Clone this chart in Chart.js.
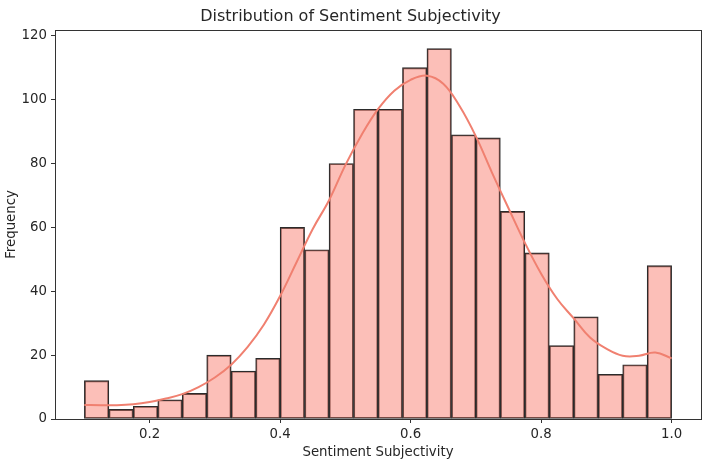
<!DOCTYPE html>
<html>
<head>
<meta charset="utf-8">
<script src="https://cdn.jsdelivr.net/npm/chart.js@4/dist/chart.umd.min.js"></script>
<style>
html,body{margin:0;padding:0;background:#fff;}
#wrap{width:708px;height:469px;}
</style>
</head>
<body>
<div id="wrap"><canvas id="c" width="708" height="469"></canvas></div>
<script>
// Histogram bin edges (Sentiment Subjectivity)
const binStart = 0.1;
const binWidth = 0.0375;
const counts = [12, 3, 4, 6, 8, 20, 15, 19, 60, 53, 80, 97, 97, 110, 116, 89, 88, 65, 52, 23, 32, 14, 17, 48];
// KDE curve (scaled to counts)
const kdeX = [0.100,0.125,0.150,0.175,0.200,0.225,0.250,0.275,0.300,0.325,0.350,0.375,0.400,0.425,0.450,0.475,0.500,0.525,0.550,0.575,0.600,0.625,0.650,0.675,0.700,0.725,0.750,0.775,0.800,0.825,0.850,0.875,0.900,0.925,0.950,0.975,1.000];
const kdeY = [4.4,4.3,4.3,4.6,5.3,6.4,7.8,10.0,13.0,17.0,22.5,29.5,38.5,49.0,59.5,68.5,79.5,89.0,97.0,102.8,106.2,107.5,105.0,98.0,88.5,77.0,66.0,55.2,45.5,37.5,31.5,25.5,22.0,19.8,19.8,20.8,19.0];
const xTicks = [0.2, 0.4, 0.6, 0.8, 1.0];
const yTicks = [0, 20, 40, 60, 80, 100, 120];

const barData = counts.map((c, i) => ({x: binStart + binWidth * (i + 0.5), y: c}));
const kdeData = kdeX.map((x, i) => ({x: x, y: kdeY[i]}));

const FONT = "'DejaVu Sans', sans-serif";
const TXT = '#262626';

const frame = {
  id: 'frame',
  afterDatasetsDraw(chart) {
    const a = chart.chartArea, ctx = chart.ctx;
    ctx.save();
    ctx.strokeStyle = '#333';
    ctx.lineWidth = 1;
    ctx.strokeRect(Math.round(a.left) + 0.5, Math.round(a.top) + 0.5, Math.round(a.right - a.left), Math.round(a.bottom - a.top));
    ctx.restore();
  }
};

new Chart(document.getElementById('c'), {
  type: 'bar',
  data: {
    datasets: [
      {
        type: 'line',
        data: kdeData,
        borderColor: '#f08070',
        borderWidth: 2,
        pointRadius: 0,
        tension: 0.4,
        fill: false,
        order: 0
      },
      {
        type: 'bar',
        data: barData,
        backgroundColor: 'rgba(250,128,114,0.5)',
        borderColor: '#2b2b2b',
        borderWidth: 1.2,
        borderSkipped: false,
        barPercentage: 1.0,
        categoryPercentage: 1.0,
        order: 1
      }
    ]
  },
  options: {
    responsive: false,
    animation: false,
    devicePixelRatio: 1,
    layout: {padding: {left: 0, right: 7, top: 0, bottom: 0}},
    plugins: {
      legend: {display: false},
      tooltip: {enabled: false},
      title: {
        display: true,
        text: 'Distribution of Sentiment Subjectivity',
        color: TXT,
        font: {family: FONT, size: 16, weight: 'normal', lineHeight: 1.2},
        padding: {top: 7, bottom: 3.8}
      }
    },
    scales: {
      x: {
        type: 'linear',
        min: 0.055,
        max: 1.045,
        offset: false,
        afterBuildTicks: s => { s.ticks = xTicks.map(v => ({value: v})); },
        afterFit: s => { s.height = 50; },
        grid: {display: true, offset: false, drawOnChartArea: false, drawTicks: true, tickLength: 4, tickColor: '#333'},
        border: {display: false},
        ticks: {color: TXT, padding: 4, font: {family: FONT, size: 13.3}, callback: v => v.toFixed(1), maxRotation: 0},
        title: {display: true, text: 'Sentiment Subjectivity', color: TXT, font: {family: FONT, size: 13.3}, padding: {top: 0, bottom: 8}}
      },
      y: {
        type: 'linear',
        min: 0,
        max: 121.8,
        afterBuildTicks: s => { s.ticks = yTicks.map(v => ({value: v})); },
        afterFit: s => { s.width = 55; },
        grid: {display: true, offset: false, drawOnChartArea: false, drawTicks: true, tickLength: 4, tickColor: '#333'},
        border: {display: false},
        ticks: {color: TXT, padding: 4, font: {family: FONT, size: 13.3}},
        title: {display: true, text: 'Frequency', color: TXT, font: {family: FONT, size: 13.3}, padding: {top: 4, bottom: 0}}
      }
    }
  },
  plugins: [frame]
});
</script>
</body>
</html>
